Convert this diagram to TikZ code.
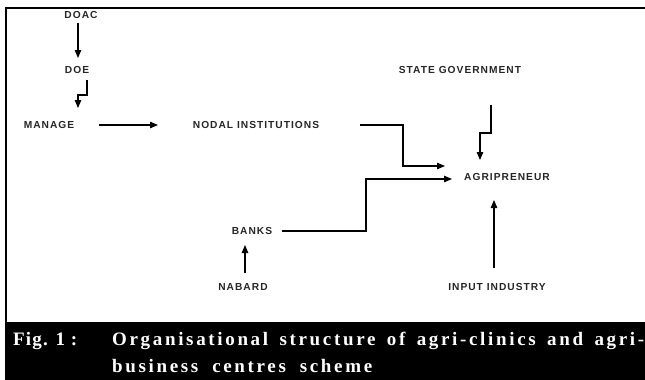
\documentclass[tikz,border=0pt]{standalone}
\usepackage{fontspec}
\usepackage{tikz}
\usetikzlibrary{arrows.meta}
\newfontfamily\boxfont[LetterSpace=10]{Liberation Sans}
\newfontfamily\capfont[LetterSpace=14]{Liberation Serif}
\newfontfamily\figfont[LetterSpace=6]{Liberation Serif}

\begin{document}
\begin{tikzpicture}[x=1pt,y=-1pt,>={Triangle[length=8pt,width=6.5pt]},
   lbl/.style={font=\boxfont\fontsize{10.2}{12}\selectfont\bfseries,text=black!85,inner sep=0pt},
   link/.style={->,line width=1.1pt},
   captext/.style={font=\capfont\fontsize{19}{23}\selectfont\bfseries,text=white,inner sep=0pt,anchor=base west}]
   \useasboundingbox (0,0) rectangle (645,380);
   \draw[line width=1.8pt] (5,8) -- (645,8);
   \draw[line width=1.8pt] (6,8) -- (6,322);
   \fill[black] (5,322) rectangle (645,380);

   \node[lbl] (doac) at (81,15) {DOAC};
   \node[lbl] (doe) at (77,70) {DOE};
   \node[lbl] (manage) at (49,125) {MANAGE};
   \node[lbl] (nodal) at (256,125) {NODAL INSTITUTIONS};
   \node[lbl] (state) at (460,70) {STATE GOVERNMENT};
   \node[lbl] (agri) at (507,177) {AGRIPRENEUR};
   \node[lbl] (banks) at (252,231) {BANKS};
   \node[lbl] (nabard) at (243,287) {NABARD};
   \node[lbl] (input) at (497,287) {INPUT INDUSTRY};

   \path[link]
    ([shift={(-3,8)}]doac.center) edge ([shift={(1,-12)}]doe.center)
    ([shift={(50,0)}]manage.center) edge ([shift={(-98,0)}]nodal.center)
    ([shift={(2,-14)}]nabard.center) edge ([shift={(-7,14)}]banks.center)
    ([shift={(-3,-19)}]input.center) edge ([shift={(-13,23)}]agri.center);
   \draw[link] ([shift={(10,10)}]doe.center) -- ++(0,15) -- ++(-9,0) -- ([shift={(29,-17)}]manage.center);
   \draw[link] ([shift={(104,0)}]nodal.center) -- ++(43,0) |- ([shift={(-62,-11)}]agri.center);
   \draw[link] ([shift={(31,35)}]state.center) -- ++(0,28) -- ++(-11,0) -- ([shift={(-27,-17)}]agri.center);
   \draw[link] ([shift={(30,0)}]banks.center) -- ++(84,0) |- ([shift={(-55,2)}]agri.center);

   \node[captext,font=\figfont\fontsize{19}{23}\selectfont\bfseries] (fig) at (13,345) {Fig. 1 :};
   \node[captext] (cap1) at (112,345) {\makebox[532pt][s]{Organisational structure of agri-clinics and agri-}};
   \node[captext] (cap2) at (112,372) {\makebox[260pt][s]{business centres scheme}};
\end{tikzpicture}
\end{document}
